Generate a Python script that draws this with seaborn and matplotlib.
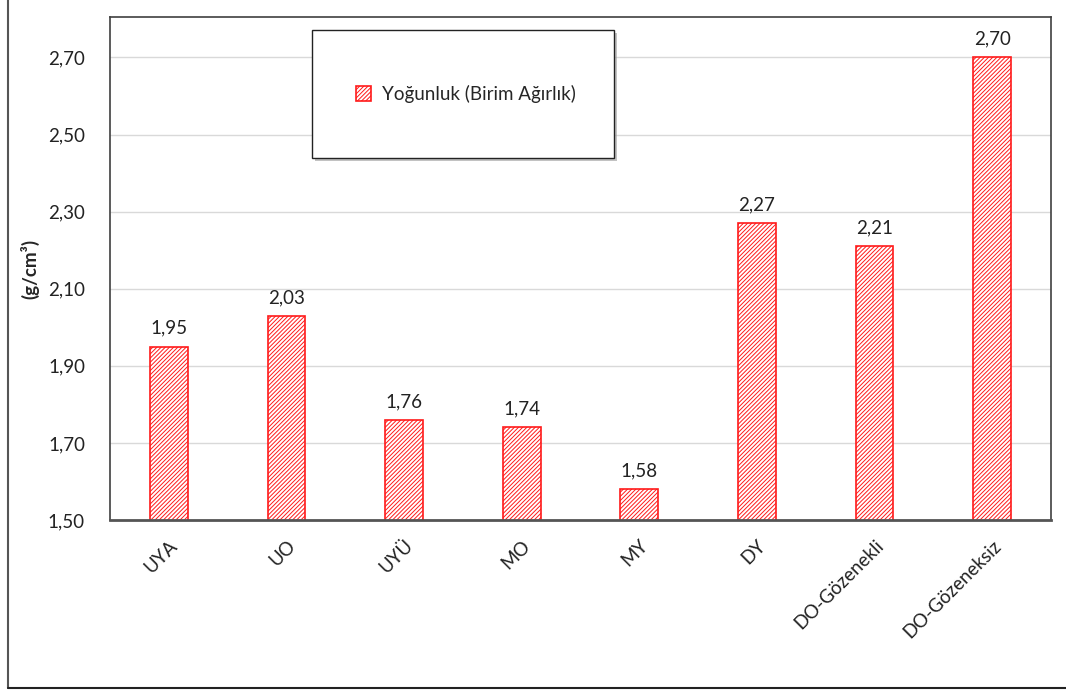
import matplotlib
matplotlib.use("Agg")
import matplotlib.pyplot as plt
from matplotlib.lines import Line2D
from matplotlib.patches import Patch, Rectangle
import seaborn as sns
import pandas as pd

categories = ["UYA", "UO", "UYÜ", "MO", "MY", "DY", "DO-Gözenekli", "DO-Gözeneksiz"]
density = [1.95, 2.03, 1.76, 1.74, 1.58, 2.27, 2.21, 2.70]
value_labels = ["1,95", "2,03", "1,76", "1,74", "1,58", "2,27", "2,21", "2,70"]
y_ticks = [1.50, 1.70, 1.90, 2.10, 2.30, 2.50, 2.70]
y_tick_labels = ["1,50", "1,70", "1,90", "2,10", "2,30", "2,50", "2,70"]
series_name = "Yoğunluk (Birim Ağırlık)"

sns.set_style("white")
plt.rcParams["font.family"] = ["Lato", "DejaVu Sans"]
plt.rcParams["hatch.color"] = "#ff7a7a"
plt.rcParams["hatch.linewidth"] = 0.7

FS = 13.5
W, H = 1066, 693
df = pd.DataFrame({"cat": categories, "val": density})

fig = plt.figure(figsize=(W / 100, H / 100), dpi=100)
ax = fig.add_axes([110 / W, 1 - 520 / H, (1051 - 110) / W, (520 - 17) / H])

sns.barplot(data=df, x="cat", y="val", ax=ax, color="white", width=0.32,
            edgecolor="#ff1a1a", linewidth=1.2, saturation=1)
for p in ax.patches:
    p.set_hatch("////////")
    p.set_facecolor("white")
    p.set_edgecolor("#ff1a1a")

ax.set_ylim(1.50, 2.805)
ax.set_yticks(y_ticks)
ax.set_yticklabels(y_tick_labels, fontsize=FS, color="#222222")
ax.tick_params(axis="y", length=0, pad=18)
ax.tick_params(axis="x", length=0, pad=12)
ax.set_xticks(range(len(categories)))
ax.set_xticklabels(categories, rotation=45, ha="right", rotation_mode="anchor",
                   fontsize=FS, color="#222222")
ax.set_xlabel("")
ax.set_ylabel("(g/cm³)", fontsize=FS, fontweight="bold")
ax.yaxis.set_label_coords(-0.075, 0.5)
ax.yaxis.grid(True, color="#d9d9d9", linewidth=1)
ax.set_axisbelow(True)

for s in ["left", "top", "right"]:
    ax.spines[s].set_color("#404040")
    ax.spines[s].set_linewidth(1.2)
ax.spines["bottom"].set_color("#555555")
ax.spines["bottom"].set_linewidth(2)

for i, (v, lab) in enumerate(zip(density, value_labels)):
    ax.annotate(lab, (i, v), xytext=(0, 7), textcoords="offset points",
                ha="center", va="bottom", fontsize=FS, color="#222222")

# legend panel: shadowed white box with the entry centred inside
bx0, by0, bx1, by1 = 312, 30, 614, 158
fig.add_artist(Rectangle((bx0 / W + 3 / W, 1 - by1 / H - 3 / H), (bx1 - bx0) / W, (by1 - by0) / H,
                         transform=fig.transFigure, facecolor="#9a9a9a", edgecolor="none",
                         alpha=0.6, zorder=8))
fig.add_artist(Rectangle((bx0 / W, 1 - by1 / H), (bx1 - bx0) / W, (by1 - by0) / H,
                         transform=fig.transFigure, facecolor="white", edgecolor="#222222",
                         linewidth=1.0, zorder=9))
handle = Patch(facecolor="white", edgecolor="#ff1a1a", hatch="////////", linewidth=1.2)
leg = fig.legend([handle], [series_name], loc="center",
                 bbox_to_anchor=(((bx0 + bx1) / 2 + 3) / W, 1 - ((by0 + by1) / 2) / H),
                 fontsize=FS, frameon=False, handlelength=0.8, handleheight=0.8,
                 handletextpad=0.6, borderaxespad=0, borderpad=0)
leg.set_zorder(10)

# outer chart frame
fig.add_artist(Line2D([8 / W, 8 / W], [1 - 688 / H, 1.0], transform=fig.transFigure,
                      color="#555555", linewidth=1.5))
fig.add_artist(Line2D([8 / W, 1.0], [1 - 688 / H, 1 - 688 / H], transform=fig.transFigure,
                      color="#222222", linewidth=1.5))

fig.savefig("out.png", dpi=100)
